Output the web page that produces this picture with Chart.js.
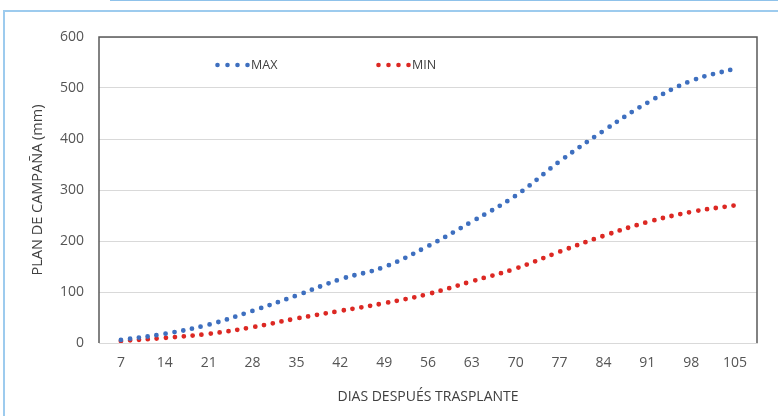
<!DOCTYPE html>
<html>
<head>
<meta charset="utf-8">
<script src="https://cdn.jsdelivr.net/npm/chart.js@4"></script>
<style>
  html, body { margin: 0; padding: 0; background: #fff; overflow: hidden; }
  #wrap { position: relative; width: 778px; height: 416px; }
  #frame { position: absolute; left: 3px; top: 10px; width: 800px; height: 430px; border: 2px solid #9dcbee; box-sizing: border-box; }
  #topline { position: absolute; left: 110px; top: -2px; width: 700px; height: 3px; background: #8fc2ea; }
  canvas { position: absolute; left: 0; top: 0; }
</style>
</head>
<body>
<div id="wrap">
  <div id="frame"></div>
  <div id="topline"></div>
  <canvas id="grafico" width="778" height="416"></canvas>
</div>
<script>
// días después del trasplante
const dias = ['7', '14', '21', '28', '35', '42', '49', '56', '63', '70', '77', '84', '91', '98', '105'];
const maxValores = [6, 18, 36, 63, 93, 125, 149, 190, 238, 289, 356, 416, 471, 514, 538];
const minValores = [4, 10, 18, 31, 48, 63, 78, 96, 121, 146, 179, 210, 237, 257, 270];
const yTicks = [0, 100, 200, 300, 400, 500, 600];

const AZUL = '#3e6fbf';
const ROJO = '#dc2823';
const FUENTE = "'Open Sans', sans-serif";

// muestra punteada para la leyenda
function muestra(color) {
  const c = document.createElement('canvas');
  c.width = 36; c.height = 6;
  const g = c.getContext('2d');
  g.fillStyle = color;
  for (let i = 0; i < 4; i++) {
    g.beginPath();
    g.arc(2.5 + i * 10, 3, 2.3, 0, Math.PI * 2);
    g.fill();
  }
  return c;
}

// marco del área de trazado y leyenda dentro del gráfico
const marco = {
  id: 'marco',
  afterDraw(chart) {
    const { ctx, chartArea: a } = chart;
    ctx.save();
    ctx.strokeStyle = '#5a5a5a';
    ctx.lineWidth = 1.5;
    ctx.beginPath();
    ctx.moveTo(a.left, a.bottom);
    ctx.lineTo(a.left, a.top);
    ctx.lineTo(a.right, a.top);
    ctx.lineTo(a.right, a.bottom);
    ctx.stroke();

    const items = [{ x: 215, ds: 0 }, { x: 376, ds: 1 }];
    ctx.font = '12.5px ' + FUENTE;
    ctx.fillStyle = '#404040';
    ctx.textBaseline = 'middle';
    items.forEach(it => {
      const d = chart.data.datasets[it.ds];
      ctx.drawImage(d.pointStyle, it.x, 62);
      ctx.fillText(d.label, it.x + 36, 65.5);
    });
    ctx.restore();
  }
};

const config = {
  type: 'line',
  data: {
    labels: dias,
    datasets: [
      {
        label: 'MAX',
        data: maxValores,
        borderColor: AZUL,
        borderWidth: 4.8,
        borderDash: [0, 9],
        borderCapStyle: 'round',
        pointRadius: 0,
        pointStyle: muestra(AZUL),
        tension: 0.4
      },
      {
        label: 'MIN',
        data: minValores,
        borderColor: ROJO,
        borderWidth: 4.8,
        borderDash: [0, 9],
        borderCapStyle: 'round',
        pointRadius: 0,
        pointStyle: muestra(ROJO),
        tension: 0.4
      }
    ]
  },
  options: {
    responsive: false,
    animation: false,
    layout: { padding: { top: 37, right: 21, left: 29, bottom: 0 } },
    plugins: {
      legend: { display: false },
      tooltip: { enabled: false }
    },
    scales: {
      x: {
        offset: true,
        grid: { display: false, drawTicks: false },
        border: { display: true, color: '#d9d9d9', width: 1 },
        ticks: { color: '#555555', font: { family: FUENTE, size: 14 }, padding: 12, maxRotation: 0 },
        title: { display: true, text: 'DIAS DESPUÉS TRASPLANTE', color: '#404040', font: { family: FUENTE, size: 14 }, padding: { top: 0, bottom: 11 } },
        afterFit(s) { s.height = 73; }
      },
      y: {
        min: 0,
        max: 600,
        afterBuildTicks(s) { s.ticks = yTicks.map(v => ({ value: v })); },
        grid: { color: '#d9d9d9', drawTicks: false },
        border: { display: false },
        ticks: { color: '#555555', font: { family: FUENTE, size: 14 }, padding: 15 },
        title: { display: true, text: 'PLAN DE CAMPAÑA (mm)', color: '#404040', font: { family: FUENTE, size: 14.5 }, padding: { top: 0, bottom: 0 } },
        afterFit(s) { s.width = 70; }
      }
    }
  },
  plugins: [marco]
};

window.addEventListener('DOMContentLoaded', () => {
  const canvas = document.getElementById('grafico');
  new Chart(canvas.getContext('2d'), config);
});
</script>
</body>
</html>
